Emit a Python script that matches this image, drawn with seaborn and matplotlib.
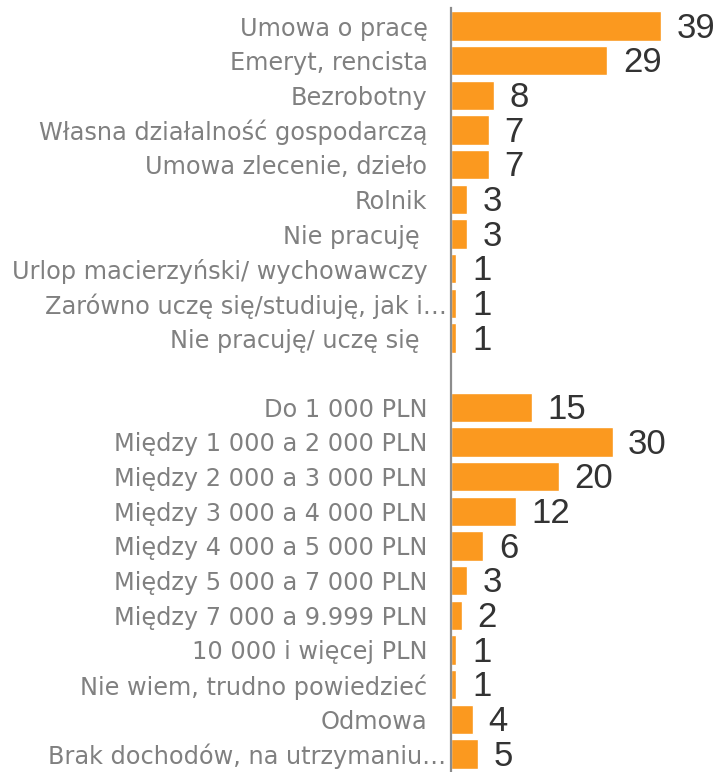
import numpy as np
import pandas as pd
import matplotlib
matplotlib.use("Agg")
import matplotlib.pyplot as plt
import matplotlib.transforms as mtransforms
import seaborn as sns

# data
employment = ["Umowa o pracę", "Emeryt, rencista", "Bezrobotny",
              "Własna działalność gospodarczą", "Umowa zlecenie, dzieło",
              "Rolnik", "Nie pracuję ", "Urlop macierzyński/ wychowawczy",
              "Zarówno uczę się/studiuję, jak i…", "Nie pracuję/ uczę się "]
employment_vals = [39, 29, 8, 7, 7, 3, 3, 1, 1, 1]

income = ["Do 1 000 PLN", "Między 1 000 a 2 000 PLN", "Między 2 000 a 3 000 PLN",
          "Między 3 000 a 4 000 PLN", "Między 4 000 a 5 000 PLN",
          "Między 5 000 a 7 000 PLN", "Między 7 000 a 9.999 PLN",
          "10 000 i więcej PLN", "Nie wiem, trudno powiedzieć", "Odmowa",
          "Brak dochodów, na utrzymaniu…"]
income_vals = [15, 30, 20, 12, 6, 3, 2, 1, 1, 4, 5]

gap = "-"  # empty row between the two groups
labels = employment + [gap] + income
values = employment_vals + [np.nan] + income_vals
df = pd.DataFrame({"label": labels, "value": values})

sns.set_style("white")
plt.rcParams["font.family"] = ["DejaVu Sans"]

fig = plt.figure(figsize=(7.17, 7.72), dpi=100)
ax = fig.add_axes([451 / 717, 0, 266 / 717, 764 / 772])

sns.barplot(data=df, x="value", y="label", order=labels, orient="h",
            color="#FB991F", saturation=1, width=0.84, ax=ax)

for i, v in enumerate(values):
    if np.isnan(v):
        continue
    ax.text(v + 2.9, i + 0.06, f"{int(v)}", va="center", ha="left",
            fontsize=25, color="#333333", family="Liberation Sans")

ax.set_xlim(0, 49.4)
ax.set_ylim(21.52, -0.52)
ax.set_xlabel("")
ax.set_ylabel("")
ax.set_xticks([])
ax.tick_params(axis="y", length=0, pad=17, labelsize=17.3, labelcolor="#808080")
# truncated labels sit closer to the axis in the original
shift = mtransforms.ScaledTranslation(19 / 100, 0, fig.dpi_scale_trans)
for lbl in ax.get_yticklabels():
    if lbl.get_text() == gap:
        lbl.set_visible(False)
    elif lbl.get_text().endswith("…"):
        lbl.set_transform(lbl.get_transform() + shift)
for s in ["top", "right", "bottom"]:
    ax.spines[s].set_visible(False)
ax.spines["left"].set_color("#8c8c8c")
ax.spines["left"].set_linewidth(1.6)

fig.savefig("out.png", dpi=100)
